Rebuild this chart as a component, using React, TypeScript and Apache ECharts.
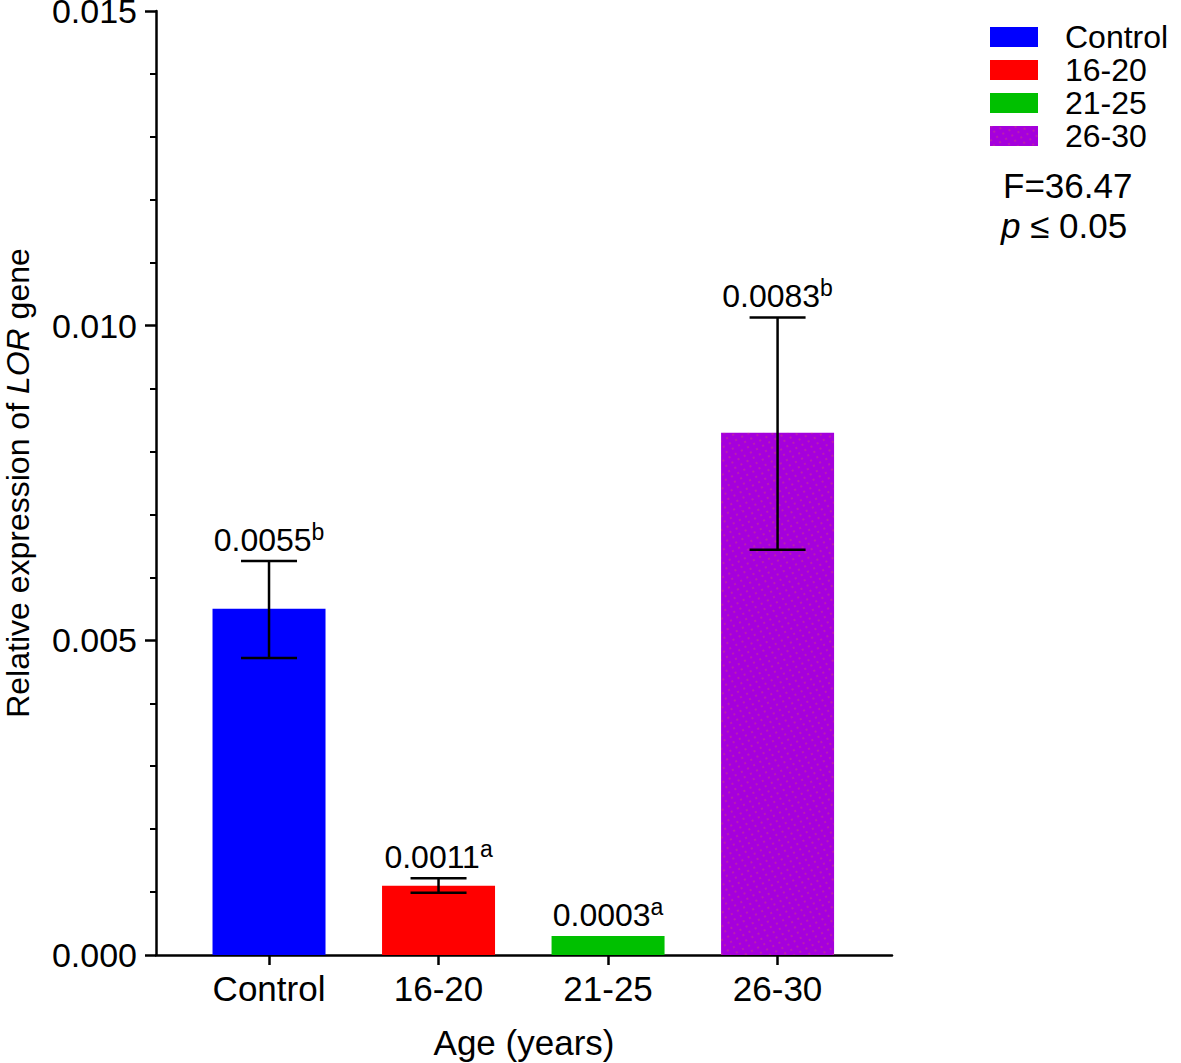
import React, { useEffect, useRef } from "react";
import * as echarts from "echarts";

const categories = ["Control", "16-20", "21-25", "26-30"];
const means = [0.0055, 0.0011, 0.0003, 0.0083];
const errLow = [0.00472, 0.00099, 0.0003, 0.00644];
const errHigh = [0.00626, 0.00122, 0.0003, 0.01013];
const valueLabels = ["0.0055", "0.0011", "0.0003", "0.0083"];
const letters = ["b", "a", "a", "b"];
const colors = ["#0000FF", "#FF0000", "#00C000", "#A500DC"];
const yTickValues = [0, 0.005, 0.01, 0.015];
const statLines = ["F=36.47", "p ≤ 0.05"];

const FONT = "'Liberation Sans', Arial, sans-serif";

export default function App() {
  const ref = useRef<HTMLDivElement>(null);
  useEffect(() => {
    if (!ref.current) return;
    const chart = echarts.init(ref.current, null, { renderer: "svg" });
    const barSeries = categories.map((c, i) => ({
      type: "bar",
      name: c,
      data: [[i, means[i]]],
      barWidth: 113,
      barGap: "-100%",
      itemStyle:
        i === 3
          ? {
              color: colors[i],
              decal: {
                symbol: "rect",
                symbolSize: 0.6,
                color: "rgba(235,120,40,0.85)",
                dashArrayX: [2, 5],
                dashArrayY: [2, 4],
                rotation: -0.5,
              },
            }
          : { color: colors[i] },
    }));
    const errData = categories.map((_, i) => [
      i,
      errLow[i],
      errHigh[i],
      Math.max(errHigh[i], means[i]),
    ]);
    const option: any = {
      animation: false,
      textStyle: { fontFamily: FONT },
      grid: {
        left: 156,
        right: 289,
        top: 11,
        bottom: 108,
        containLabel: false,
        outerBoundsMode: "none",
      },
      legend: {
        show: true,
        data: categories,
        orient: "vertical",
        left: 985,
        top: 16,
        itemWidth: 48,
        itemHeight: 20,
        itemGap: 1,
        icon: "rect",
        selectedMode: false,
        textStyle: {
          fontSize: 32,
          lineHeight: 32,
          fontFamily: FONT,
          color: "#000",
          padding: [0, 0, 0, 22],
        },
      },
      xAxis: {
        type: "value",
        min: -0.6667,
        max: 3.675,
        name: "Age (years)",
        nameLocation: "middle",
        nameGap: 70,
        nameTextStyle: { fontSize: 35, color: "#000", fontFamily: FONT },
        axisLine: { show: true, lineStyle: { color: "#000", width: 2.5 } },
        axisTick: {
          show: true,
          customValues: [0, 1, 2, 3],
          length: 10,
          lineStyle: { color: "#000", width: 2.5 },
        },
        axisLabel: {
          customValues: [0, 1, 2, 3],
          formatter: (v: number) => categories[Math.round(v)] ?? "",
          fontSize: 35,
          color: "#000",
          margin: 16,
          fontFamily: FONT,
        },
        splitLine: { show: false },
      },
      yAxis: {
        type: "value",
        min: 0,
        max: 0.015,
        interval: 0.005,
        name: "{n|Relative expression of }{i|LOR}{n| gene}",
        nameLocation: "middle",
        nameRotate: 90,
        nameGap: 122,
        nameTextStyle: {
          fontSize: 32,
          color: "#000",
          fontFamily: FONT,
          rich: {
            n: { fontSize: 32, color: "#000", fontFamily: FONT },
            i: { fontSize: 32, color: "#000", fontFamily: FONT, fontStyle: "italic" },
          },
        },
        axisLine: { show: true, onZero: false, lineStyle: { color: "#000", width: 2.5 } },
        axisTick: { show: true, length: 11, lineStyle: { color: "#000", width: 2.5 } },
        minorTick: { show: true, splitNumber: 5, length: 6, lineStyle: { color: "#000", width: 2 } },
        axisLabel: {
          fontSize: 34,
          color: "#000",
          margin: 19,
          fontFamily: FONT,
          formatter: (v: number) => {
            const t = yTickValues.find((x) => Math.abs(x - v) < 1e-9);
            return (t ?? v).toFixed(3);
          },
        },
        splitLine: { show: false },
      },
      series: [
        ...barSeries,
        {
          type: "custom",
          name: "error",
          z: 10,
          data: errData,
          encode: { x: 0, y: [1, 2, 3] },
          renderItem: (params: any, api: any) => {
            const i = api.value(0);
            const lo = api.value(1);
            const hi = api.value(2);
            const top = api.value(3);
            const pLo = api.coord([i, lo]);
            const pHi = api.coord([i, hi]);
            const pTop = api.coord([i, top]);
            const hw = 28;
            const ls = { stroke: "#000", lineWidth: 2.5 };
            const children: any[] = [];
            if (Math.abs(hi - lo) > 1e-9) {
              children.push(
                { type: "line", shape: { x1: pLo[0], y1: pLo[1], x2: pHi[0], y2: pHi[1] }, style: ls },
                { type: "line", shape: { x1: pHi[0] - hw, y1: pHi[1], x2: pHi[0] + hw, y2: pHi[1] }, style: ls },
                { type: "line", shape: { x1: pLo[0] - hw, y1: pLo[1], x2: pLo[0] + hw, y2: pLo[1] }, style: ls }
              );
            }
            const idx = Math.round(i);
            children.push({
              type: "text",
              x: pTop[0],
              y: pTop[1] - 5,
              style: {
                text: `{v|${valueLabels[idx]}}{s|${letters[idx]}}`,
                align: "center",
                verticalAlign: "bottom",
                fill: "#000",
                fontFamily: FONT,
                rich: {
                  v: { fontSize: 32, lineHeight: 36, verticalAlign: "bottom", fontFamily: FONT, fill: "#000" },
                  s: { fontSize: 23, lineHeight: 22, verticalAlign: "top", fontFamily: FONT, fill: "#000" },
                },
              },
            });
            return { type: "group", children };
          },
        },
      ],
      graphic: [
        {
          type: "text",
          left: 1003,
          top: 168,
          style: { text: statLines[0], fontSize: 35, fontFamily: FONT, fill: "#000" },
        },
        {
          type: "text",
          left: 1001,
          top: 208,
          style: {
            text: "{i|p}{n| ≤ 0.05}",
            fontSize: 35,
            fontFamily: FONT,
            fill: "#000",
            rich: {
              i: { fontSize: 35, fontStyle: "italic", fontFamily: FONT, fill: "#000" },
              n: { fontSize: 35, fontFamily: FONT, fill: "#000" },
            },
          },
        },
      ],
    };
    chart.setOption(option);
    return () => chart.dispose();
  }, []);
  return (
    <div
      ref={ref}
      style={{ position: "fixed", left: 0, top: 0, width: 1181, height: 1063, background: "#fff" }}
    />
  );
}
